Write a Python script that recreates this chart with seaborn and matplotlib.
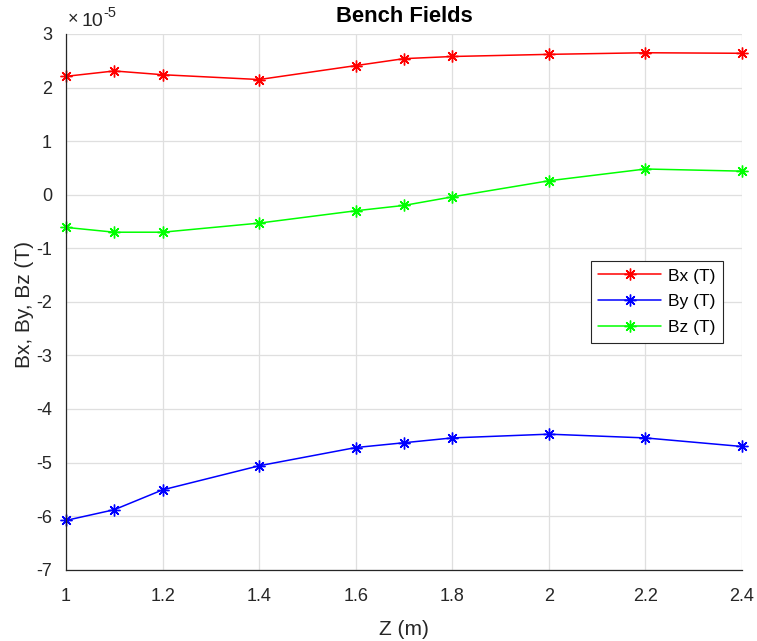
import matplotlib
matplotlib.use("Agg")
import matplotlib.pyplot as plt
import matplotlib.ticker as mticker
import seaborn as sns
import pandas as pd

z = [1.0, 1.1, 1.2, 1.4, 1.6, 1.7, 1.8, 2.0, 2.2, 2.4]
bx = [2.21e-5, 2.31e-5, 2.24e-5, 2.15e-5, 2.41e-5, 2.54e-5, 2.58e-5, 2.62e-5, 2.65e-5, 2.64e-5]
by = [-6.08e-5, -5.88e-5, -5.51e-5, -5.06e-5, -4.72e-5, -4.63e-5, -4.54e-5, -4.47e-5, -4.54e-5, -4.70e-5]
bz = [-0.61e-5, -0.70e-5, -0.70e-5, -0.53e-5, -0.30e-5, -0.20e-5, -0.04e-5, 0.26e-5, 0.48e-5, 0.44e-5]
series_names = ["Bx (T)", "By (T)", "Bz (T)"]
series_colors = ["#ff0000", "#0000ff", "#00ff00"]
x_ticks = [1.0, 1.2, 1.4, 1.6, 1.8, 2.0, 2.2, 2.4]
y_ticks = [-7e-5, -6e-5, -5e-5, -4e-5, -3e-5, -2e-5, -1e-5, 0, 1e-5, 2e-5, 3e-5]
y_exponent = -5

sns.set_style("white")
plt.rcParams["font.family"] = ["Liberation Sans", "DejaVu Sans"]
plt.rcParams["axes.unicode_minus"] = False

textc = "#262626"
fig = plt.figure(figsize=(7.57, 6.41), dpi=100)
ax = fig.add_axes([66/757, 1-569.7/641, (742-66)/757, (569.7-34)/641])

df = pd.DataFrame({"Z": z * 3,
                   "B": bx + by + bz,
                   "series": [series_names[0]]*len(z) + [series_names[1]]*len(z) + [series_names[2]]*len(z)})
for name, col in zip(series_names, series_colors):
    sub = df[df["series"] == name]
    sns.lineplot(data=sub, x="Z", y="B", ax=ax, color=col, marker=(8, 2, 0),
                 markersize=8.5, markeredgewidth=1.0, markeredgecolor=col,
                 linewidth=1.1, label=name, clip_on=False)

ax.set_xlim(1, 2.4)
ax.set_ylim(-7e-5, 3e-5)
ax.set_xticks(x_ticks)
ax.set_yticks(y_ticks)
ax.xaxis.set_major_formatter(mticker.FuncFormatter(lambda v, p: f"{v:g}"))
scale = 10.0 ** y_exponent
ax.yaxis.set_major_formatter(mticker.FuncFormatter(lambda v, p: f"{round(v/scale, 6):g}"))

# exponent label (x10^-5) above the y axis
ax.annotate("\u00d7", xy=(0, 1), xycoords="axes fraction", xytext=(1, 4),
            textcoords="offset points", ha="left", va="bottom", fontsize=13, color=textc)
ax.annotate("10", xy=(0, 1), xycoords="axes fraction", xytext=(11, 3),
            textcoords="offset points", ha="left", va="bottom", fontsize=14, color=textc)
ax.annotate(f"{y_exponent}", xy=(0, 1), xycoords="axes fraction", xytext=(27, 10),
            textcoords="offset points", ha="left", va="bottom", fontsize=10.5, color=textc)

ax.grid(True, color="#dfdfdf", linewidth=0.9)
ax.set_axisbelow(True)
for s in ["top", "right"]:
    ax.spines[s].set_visible(False)
for s in ["left", "bottom"]:
    ax.spines[s].set_color(textc)
    ax.spines[s].set_linewidth(0.9)
ax.tick_params(direction="in", length=4, width=0.8, colors=textc, labelsize=13)
ax.tick_params(axis="x", pad=13)
ax.tick_params(axis="y", pad=10)

ax.set_xlabel("Z (m)", fontsize=15, color=textc, labelpad=11)
ax.set_ylabel("Bx, By, Bz (T)", fontsize=15, color=textc)
ax.yaxis.set_label_coords(-0.047, 0.495)
ax.set_title("Bench Fields", fontsize=15.8, fontweight="bold", color="black", pad=9)

leg = ax.legend(loc="upper right", bbox_to_anchor=(0.972, 0.577), fontsize=12.5,
                frameon=True, fancybox=False, edgecolor=textc, framealpha=1,
                handlelength=3.6, handletextpad=0.4, borderpad=0.45, labelspacing=0.6,
                borderaxespad=0)
leg.get_frame().set_linewidth(0.8)
for t in leg.get_texts():
    t.set_color("black")

fig.savefig("out.png", dpi=100)
